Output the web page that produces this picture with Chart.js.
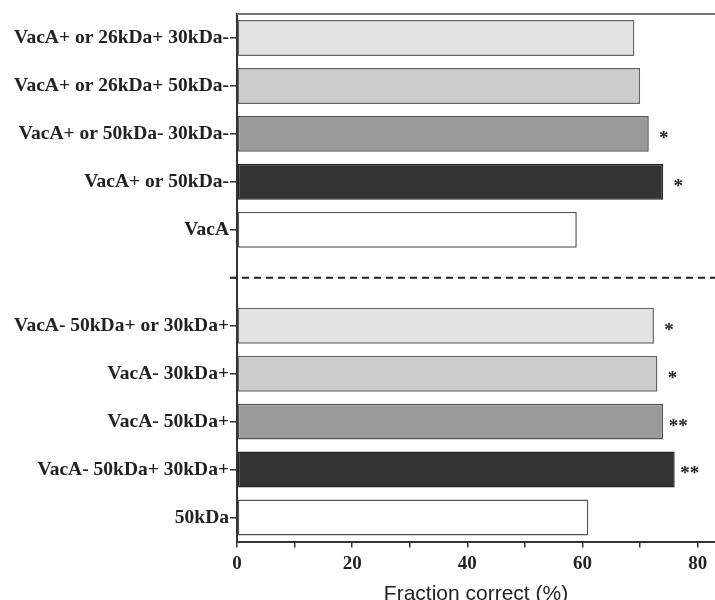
<!DOCTYPE html>
<html><head><meta charset="utf-8">
<script src="https://cdn.jsdelivr.net/npm/chart.js@4"></script>
<style>html,body{margin:0;padding:0;background:#fff;}#wrap{width:715px;height:600px;}</style>
</head><body><div id="wrap"><canvas id="c" width="715" height="600"></canvas></div>
<script>
const categories = [
  'VacA+ or 26kDa+ 30kDa-',
  'VacA+ or 26kDa+ 50kDa-',
  'VacA+ or 50kDa- 30kDa-',
  'VacA+ or 50kDa-',
  'VacA',
  '',
  'VacA- 50kDa+ or 30kDa+',
  'VacA- 30kDa+',
  'VacA- 50kDa+',
  'VacA- 50kDa+ 30kDa+',
  '50kDa'
];
const fractionCorrect = [69, 70, 71.5, 74, 59, null, 72.4, 73, 74, 76, 61];
const significance = ['', '', '*', '*', '', '', '*', '*', '**', '**', ''];
const fillColors = ['#e3e3e3','#cccccc','#999999','#333333','#ffffff','#ffffff','#e3e3e3','#cccccc','#999999','#333333','#ffffff'];
const borderColors = ['#666','#666','#555','#222','#555','#555','#666','#666','#555','#222','#555'];
const dividerIndex = 5;

const overlay = {
  id: 'overlay',
  afterDatasetsDraw(chart) {
    const ctx = chart.ctx, ca = chart.chartArea;
    const xs = chart.scales.x, ys = chart.scales.y;
    ctx.save();
    ctx.strokeStyle = '#777'; ctx.lineWidth = 2;
    ctx.beginPath(); ctx.moveTo(ca.left, ca.top); ctx.lineTo(chart.width, ca.top); ctx.stroke();
    const yd = ys.getPixelForValue(dividerIndex);
    ctx.strokeStyle = '#222'; ctx.lineWidth = 2; ctx.setLineDash([7,5]);
    ctx.beginPath(); ctx.moveTo(ca.left - 7, yd); ctx.lineTo(chart.width, yd); ctx.stroke();
    ctx.setLineDash([]);
    ctx.fillStyle = '#222'; ctx.font = 'bold 19px "Liberation Serif"';
    ctx.textAlign = 'center'; ctx.textBaseline = 'middle';
    significance.forEach((s, i) => {
      if (!s || fractionCorrect[i] == null) return;
      const xp = xs.getPixelForValue(fractionCorrect[i]) + 15;
      ctx.fillText(s, xp, ys.getPixelForValue(i) + 5);
    });
    ctx.restore();
  }
};

new Chart(document.getElementById('c'), {
  type: 'bar',
  data: {
    labels: categories,
    datasets: [{
      data: fractionCorrect,
      backgroundColor: fillColors,
      borderColor: borderColors,
      borderWidth: 1.5,
      borderSkipped: false,
      barPercentage: 0.75,
      categoryPercentage: 1
    }]
  },
  options: {
    indexAxis: 'y',
    responsive: false,
    devicePixelRatio: 1,
    animation: false,
    layout: { padding: { top: 14, right: 0, left: 0, bottom: 0 } },
    plugins: { legend: { display: false }, tooltip: { enabled: false } },
    scales: {
      y: {
        type: 'category',
        grid: { display: true, offset: false, drawOnChartArea: false, tickLength: 7, color: '#333', lineWidth: 1.5 },
        border: { color: '#333', width: 2 },
        ticks: { autoSkip: false, padding: 1, color: '#222', font: { family: 'Liberation Serif', weight: 'bold', size: 19.5 } },
        afterFit: s => { s.width = 237; }
      },
      x: {
        min: 0, max: 83,
        grid: { display: true, drawOnChartArea: false, tickLength: 6, color: '#333', lineWidth: 1.5 },
        border: { color: '#333', width: 2 },
        ticks: {
          stepSize: 10, includeBounds: false, padding: 5, color: '#222',
          font: { family: 'Liberation Serif', weight: 'bold', size: 19 },
          callback: v => (v % 20 === 0 ? v : '')
        },
        title: {
          display: true, text: 'Fraction correct (%)', color: '#222',
          font: { family: 'Liberation Sans', size: 21 },
          padding: { top: 0, bottom: -7 }
        },
        afterFit: s => { s.height = 58.5; }
      }
    }
  },
  plugins: [overlay]
});
</script>
</body></html>
